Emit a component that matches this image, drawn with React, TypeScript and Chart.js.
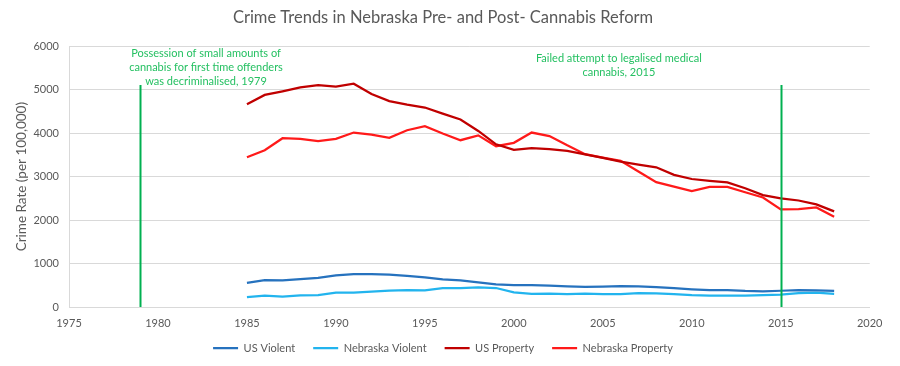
import React, { useEffect, useRef } from "react";
import { Chart, registerables } from "chart.js";

Chart.register(...registerables);

const years = [1985, 1986, 1987, 1988, 1989, 1990, 1991, 1992, 1993, 1994, 1995, 1996, 1997, 1998, 1999, 2000, 2001, 2002, 2003, 2004, 2005, 2006, 2007, 2008, 2009, 2010, 2011, 2012, 2013, 2014, 2015, 2016, 2017, 2018];

const usViolent = [557, 620, 612, 641, 670, 730, 758, 758, 746, 714, 684, 637, 610, 565, 523, 506, 504, 494, 476, 463, 469, 479, 472, 459, 432, 405, 387, 388, 369, 362, 374, 386, 383, 369];
const nebraskaViolent = [230, 260, 240, 270, 276, 330, 332, 352, 377, 391, 380, 437, 437, 452, 437, 335, 300, 308, 294, 308, 294, 294, 322, 315, 294, 272, 262, 262, 262, 275, 284, 318, 330, 300];
const usProperty = [4666, 4881, 4963, 5054, 5107, 5073, 5140, 4903, 4740, 4660, 4591, 4451, 4316, 4052, 3744, 3618, 3658, 3631, 3591, 3514, 3432, 3346, 3277, 3215, 3041, 2946, 2905, 2868, 2733, 2574, 2500, 2451, 2362, 2200];
const nebraskaProperty = [3448, 3609, 3885, 3870, 3816, 3870, 4015, 3969, 3892, 4069, 4161, 3992, 3839, 3950, 3701, 3778, 4015, 3935, 3720, 3517, 3440, 3363, 3120, 2874, 2770, 2667, 2766, 2766, 2640, 2521, 2248, 2253, 2291, 2076];

const seriesNames = ["US Violent", "Nebraska Violent", "US Property", "Nebraska Property"];
const seriesColors = ["#2672BE", "#22B4EE", "#C00000", "#FF1A1A"];

const xTicks = [1975, 2020, 5];
const yTicks = [0, 6000, 1000];

const eventYears = [1979, 2015];
const eventTop = [5110, 5110];
const eventLabels = [
  ["Possession of small amounts of", "cannabis for first time offenders", "was decriminalised, 1979"],
  ["Failed attempt to legalised medical", "cannabis, 2015"],
];
const eventLabelX = [1982.7, 2005.9];
const eventLabelY = [5830, 5715];

const FONT = "Lato, 'Open Sans', sans-serif";
const GREEN = "#00B050";
const TEXT_GREEN = "#25C062";
const GREY_TEXT = "#595959";

const eventsPlugin = {
  id: "events",
  afterInit(chart: any) {
    const legend = chart.legend;
    if (legend && !legend.__patched) {
      const origFit = legend.fit.bind(legend);
      legend.fit = function () {
        origFit();
        this.height = 23;
      };
      legend.__patched = true;
    }
  },
  afterLayout(chart: any) {
    const legend = chart.legend;
    if (legend) {
      legend.top -= 10.5;
      legend.height += 10.5;
    }
  },
  afterDatasetsDraw(chart: any) {
    const { ctx, scales } = chart;
    const xs = scales.x;
    const ys = scales.y;
    ctx.save();
    eventYears.forEach((yr, i) => {
      const px = Math.round(xs.getPixelForValue(yr)) + 0.5;
      ctx.strokeStyle = GREEN;
      ctx.lineWidth = 2;
      ctx.beginPath();
      ctx.moveTo(px, ys.getPixelForValue(eventTop[i]));
      ctx.lineTo(px, ys.getPixelForValue(0));
      ctx.stroke();
    });
    ctx.fillStyle = TEXT_GREEN;
    ctx.font = `11px ${FONT}`;
    ctx.textAlign = "center";
    ctx.textBaseline = "middle";
    eventLabels.forEach((lines, i) => {
      const cx = xs.getPixelForValue(eventLabelX[i]);
      const cy = ys.getPixelForValue(eventLabelY[i]);
      lines.forEach((line, j) => {
        ctx.fillText(line, cx, cy + j * 14);
      });
    });
    ctx.restore();
  },
};

export default function App() {
  const canvasRef = useRef<HTMLCanvasElement | null>(null);

  useEffect(() => {
    if (!canvasRef.current) return;
    const allSeries = [usViolent, nebraskaViolent, usProperty, nebraskaProperty];
    const chart = new Chart(canvasRef.current, {
      type: "line",
      data: {
        datasets: allSeries.map((vals, i) => ({
          label: seriesNames[i],
          data: vals.map((v, k) => ({ x: years[k], y: v })),
          borderColor: seriesColors[i],
          backgroundColor: seriesColors[i],
          borderWidth: 2.25,
          pointRadius: 0,
          tension: 0,
          fill: false,
        })),
      },
      options: {
        animation: false,
        responsive: true,
        maintainAspectRatio: false,
        layout: { padding: { left: 0, right: 14, top: 0, bottom: 0 } },
        plugins: {
          title: {
            display: true,
            text: "Crime Trends in Nebraska Pre- and Post- Cannabis Reform",
            color: GREY_TEXT,
            font: { family: FONT, size: 16.5, weight: "normal" },
            padding: { top: 0, bottom: 18.5 },
          },
          legend: {
            position: "bottom",
            labels: {
              usePointStyle: true,
              pointStyle: "line",
              pointStyleWidth: 25,
              boxHeight: 11,
              color: GREY_TEXT,
              font: { family: FONT, size: 11 },
              padding: 18,
            },
          },
          tooltip: { enabled: false },
        },
        scales: {
          x: {
            type: "linear",
            min: xTicks[0],
            max: xTicks[1],
            ticks: {
              stepSize: xTicks[2],
              color: GREY_TEXT,
              font: { family: FONT, size: 11 },
              padding: 9.5,
              callback: (v: any) => String(v),
            },
            grid: { display: false, drawTicks: false },
            border: { color: "#d9d9d9", width: 1 },
            afterFit: (scale: any) => {
              scale.height = 28;
            },
          },
          y: {
            min: yTicks[0],
            max: yTicks[1],
            ticks: {
              stepSize: yTicks[2],
              color: GREY_TEXT,
              font: { family: FONT, size: 11 },
              padding: 10,
              callback: (v: any) => String(v),
            },
            grid: { color: "#d9d9d9", lineWidth: 1, drawTicks: false },
            border: { color: "#d9d9d9", width: 1 },
            title: {
              display: true,
              text: "Crime Rate (per 100,000)",
              color: GREY_TEXT,
              font: { family: FONT, size: 13.5 },
              padding: { top: 6, bottom: 0 },
            },
            afterFit: (scale: any) => {
              scale.width = 61;
            },
          },
        },
      },
      plugins: [eventsPlugin],
    });
    return () => chart.destroy();
  }, []);

  return (
    <div style={{ width: 884, height: 350, position: "relative" }}>
      <canvas ref={canvasRef} />
    </div>
  );
}
